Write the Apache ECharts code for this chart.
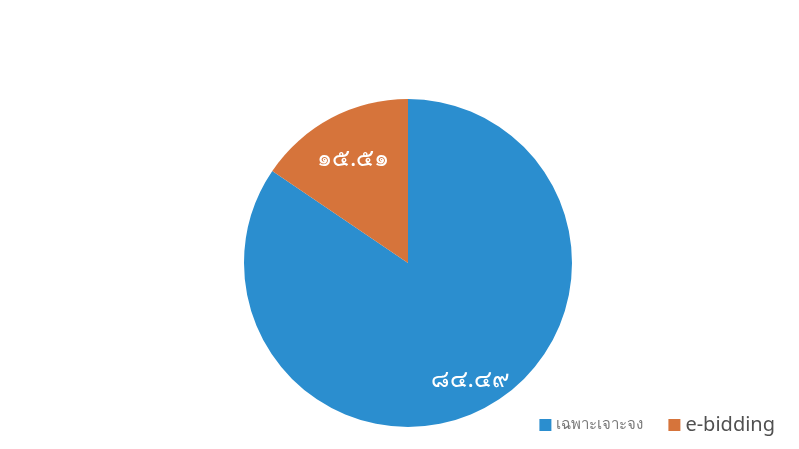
<!DOCTYPE html>
<html>
<head>
<meta charset="utf-8">
<script src="https://cdn.jsdelivr.net/npm/echarts@6/dist/echarts.min.js"></script>
<style>
    html, body { margin: 0; padding: 0; background: #fff; }
    #chartPie { width: 799px; height: 449px; }
</style>
</head>
<body>
<div id="chartPie"></div>
<script>
    // data
    var categories = ['เฉพาะเจาะจง', 'e-bidding'];
    var values = [84.49, 15.51];
    var valueLabels = ['๘๔.๔๙', '๑๕.๕๑'];
    var colors = ['#2b8ecf', '#d6743b'];

    // inner radius of the invisible ring that carries each label
    var labelRings = [96, 64];

    var chart = echarts.init(document.getElementById('chartPie'));

    var series = [{
        name: 'pie',
        type: 'pie',
        center: [408, 263],
        radius: 164,
        startAngle: 90,
        clockwise: true,
        label: { show: false },
        labelLine: { show: false },
        data: categories.map(function (name, i) {
            return { name: name, value: values[i], itemStyle: { color: colors[i] } };
        })
    }];

    // ghost rings, one per label, so each label sits where the reference has it
    labelRings.forEach(function (inner, k) {
        series.push({
            name: 'label' + k,
            type: 'pie',
            silent: true,
            center: [408, 263],
            radius: [inner, 164],
            startAngle: 90,
            clockwise: true,
            itemStyle: { color: 'rgba(0,0,0,0)' },
            label: {
                show: true,
                position: 'inside',
                color: '#ffffff',
                fontSize: 24,
                fontFamily: 'Noto Sans, DejaVu Sans, sans-serif',
                formatter: function (p) { return p.dataIndex === k ? valueLabels[k] : ''; }
            },
            labelLine: { show: false },
            data: categories.map(function (name, i) {
                return { name: name + ' #' + k, value: values[i] };
            })
        });
    });

    chart.setOption({
        backgroundColor: '#ffffff',
        animation: false,
        legend: {
            right: 19,
            top: 410,
            itemWidth: 12,
            itemHeight: 12,
            itemGap: 25,
            icon: 'rect',
            data: [
                { name: categories[0], textStyle: { fontSize: 15, color: '#7a7a7a' } },
                { name: categories[1], textStyle: { fontSize: 20, color: '#505050' } }
            ],
            textStyle: { fontFamily: 'Noto Sans, DejaVu Sans, sans-serif' }
        },
        series: series
    });
</script>
</body>
</html>
